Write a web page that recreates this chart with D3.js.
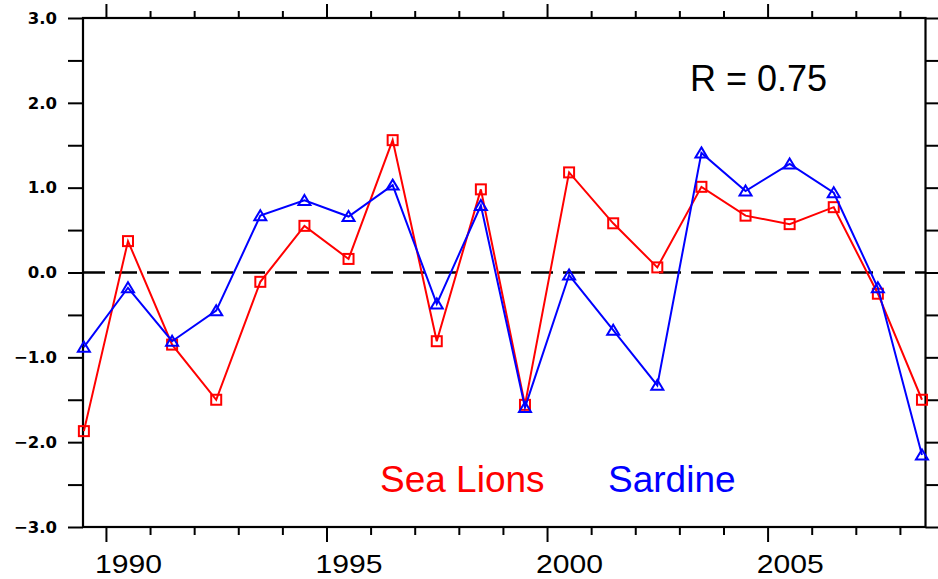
<!DOCTYPE html>
<html>
<head>
<meta charset="utf-8">
<script src="https://cdn.jsdelivr.net/npm/d3@7"></script>
<style>
  html, body { margin: 0; padding: 0; background: #fff; }
  svg { display: block; }
</style>
</head>
<body>
<svg id="chart" width="938" height="579"></svg>
<script>
// ---- data ----
const years = [1989.5, 1990.5, 1991.5, 1992.5, 1993.5, 1994.5, 1995.5, 1996.5, 1997.5, 1998.5,
               1999.5, 2000.5, 2001.5, 2002.5, 2003.5, 2004.5, 2005.5, 2006.5, 2007.5, 2008.5];
const seaLions = [-1.87, 0.37, -0.85, -1.50, -0.11, 0.55, 0.16, 1.56, -0.81, 0.98,
                  -1.56, 1.18, 0.58, 0.06, 1.01, 0.67, 0.57, 0.77, -0.25, -1.50];
const sardine  = [-0.88, -0.18, -0.81, -0.45, 0.67, 0.85, 0.66, 1.03, -0.37, 0.79,
                  -1.59, -0.03, -0.68, -1.33, 1.41, 0.96, 1.28, 0.94, -0.18, -2.15];
const yTickValues = [-3, -2.5, -2, -1.5, -1, -0.5, 0, 0.5, 1, 1.5, 2, 2.5, 3];
const xMajorTicks = [1990, 1995, 2000, 2005];
const xMinorTicks = [1990,1991,1992,1993,1994,1995,1996,1997,1998,1999,2000,2001,2002,2003,2004,2005,2006,2007,2008];
const legendLabels = ["Sea Lions", "Sardine"];
const annotation = "R = 0.75";

// ---- layout ----
const svg = d3.select("#chart");
const L = 83, R = 925.5, T = 18, B = 527;
const x = d3.scaleLinear().domain([1989.48, 2008.58]).range([L, R]);
const y = d3.scaleLinear().domain([-3, 3]).range([B, T]);

svg.append("rect").attr("width", 938).attr("height", 579).attr("fill", "#fff");

// zero dashed line
svg.append("line")
  .attr("x1", L).attr("x2", R)
  .attr("y1", y(0)).attr("y2", y(0))
  .attr("stroke", "#000").attr("stroke-width", 2.5)
  .attr("stroke-dasharray", "22 10");

// ---- axes ----
function styleAxis(g) {
  g.select(".domain").remove();
  g.selectAll(".tick line").attr("stroke", "#000").attr("stroke-width", 2);
}
const fmtY = d => Number.isInteger(d) ? d3.format(".1f")(d) : "";

// left
svg.append("g").attr("transform", `translate(${L},0)`)
  .call(d3.axisLeft(y).tickValues(yTickValues).tickSize(15).tickPadding(11).tickFormat(fmtY))
  .call(styleAxis)
  .call(g => g.selectAll("text")
      .attr("font-family", "DejaVu Sans").attr("font-weight", "bold")
      .attr("font-size", "16.5px").attr("fill", "#000"));
// right
svg.append("g").attr("transform", `translate(${R},0)`)
  .call(d3.axisRight(y).tickValues(yTickValues).tickSize(15).tickFormat(""))
  .call(styleAxis);
// bottom minor + major
svg.append("g").attr("transform", `translate(0,${B})`)
  .call(d3.axisBottom(x).tickValues(xMinorTicks.filter(v => !xMajorTicks.includes(v))).tickSize(8).tickFormat(""))
  .call(styleAxis);
const dxLab = x(1990.5) - x(1990);
svg.append("g").attr("transform", `translate(0,${B})`)
  .call(d3.axisBottom(x).tickValues(xMajorTicks).tickSize(15).tickPadding(0).tickFormat(d3.format("d")))
  .call(styleAxis)
  .call(g => g.selectAll("text")
      .attr("dy", null).attr("y", 46).attr("x", dxLab - 33.5)
      .attr("text-anchor", "start")
      .attr("textLength", 67).attr("lengthAdjust", "spacingAndGlyphs")
      .attr("font-family", "Liberation Sans, Arial, sans-serif")
      .attr("font-size", "26px").attr("fill", "#000"));
// top minor + major
svg.append("g").attr("transform", `translate(0,${T})`)
  .call(d3.axisTop(x).tickValues(xMinorTicks.filter(v => !xMajorTicks.includes(v))).tickSize(7).tickFormat(""))
  .call(styleAxis);
svg.append("g").attr("transform", `translate(0,${T})`)
  .call(d3.axisTop(x).tickValues(xMajorTicks).tickSize(14).tickFormat(""))
  .call(styleAxis);

// frame
svg.append("rect")
  .attr("x", L).attr("y", T).attr("width", R - L).attr("height", B - T)
  .attr("fill", "none").attr("stroke", "#000").attr("stroke-width", 2.2);

// ---- series ----
const line = d3.line().x(d => x(d[0])).y(d => y(d[1]));
const redData = years.map((yr, i) => [yr, seaLions[i]]);
const blueData = years.map((yr, i) => [yr, sardine[i]]);

svg.append("path").datum(redData).attr("d", line)
  .attr("fill", "none").attr("stroke", "#ff0000").attr("stroke-width", 2);
svg.append("g").selectAll("rect").data(redData).join("rect")
  .attr("x", d => x(d[0]) - 5).attr("y", d => y(d[1]) - 5)
  .attr("width", 10).attr("height", 10)
  .attr("fill", "none").attr("stroke", "#ff0000").attr("stroke-width", 2);

svg.append("path").datum(blueData).attr("d", line)
  .attr("fill", "none").attr("stroke", "#0000ff").attr("stroke-width", 2);
svg.append("g").selectAll("path").data(blueData).join("path")
  .attr("transform", d => `translate(${x(d[0])},${y(d[1])})`)
  .attr("d", "M0,-5.5L6,4.5L-6,4.5Z")
  .attr("fill", "none").attr("stroke", "#0000ff").attr("stroke-width", 2);

// ---- text ----
svg.append("text").attr("x", 690).attr("y", 91)
  .attr("font-family", "Liberation Sans, Arial, sans-serif").attr("font-size", "36px")
  .attr("fill", "#000").text(annotation);
svg.append("text").attr("x", 380).attr("y", 491.5)
  .attr("font-family", "Liberation Sans, Arial, sans-serif").attr("font-size", "37px")
  .attr("fill", "#ff0000").text(legendLabels[0]);
svg.append("text").attr("x", 608).attr("y", 491.5)
  .attr("font-family", "Liberation Sans, Arial, sans-serif").attr("font-size", "37px")
  .attr("fill", "#0000ff").text(legendLabels[1]);
</script>
</body>
</html>
